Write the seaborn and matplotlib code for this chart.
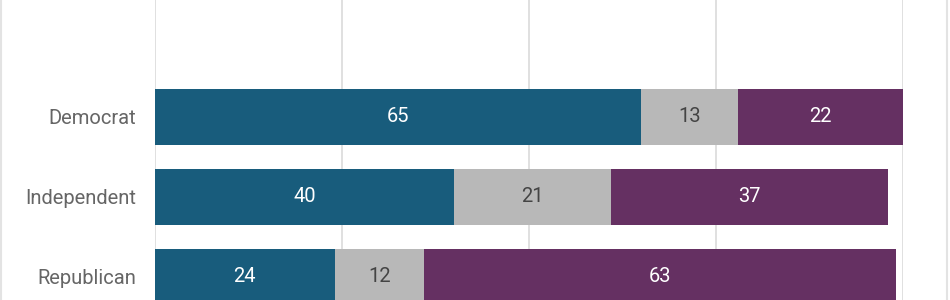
import matplotlib
matplotlib.use("Agg")
import matplotlib.pyplot as plt
import seaborn as sns
import pandas as pd
import numpy as np
from matplotlib.patches import Rectangle

categories = ["Democrat", "Independent", "Republican"]
approve = [65, 40, 24]
neutral = [13, 21, 12]
disapprove = [22, 37, 63]

colors = {"approve": "#185C7C", "neutral": "#B8B8B8", "disapprove": "#653062"}
text_colors = {"approve": "white", "neutral": "#444444", "disapprove": "white"}

sns.set_theme(style="white")
plt.rcParams["font.family"] = ["Roboto", "DejaVu Sans"]

df = pd.DataFrame({"party": categories, "approve": approve,
                   "neutral": neutral, "disapprove": disapprove})
df["c1"] = df["approve"]
df["c2"] = df["approve"] + df["neutral"]
df["c3"] = df["approve"] + df["neutral"] + df["disapprove"]

fig = plt.figure(figsize=(9.5, 3.0), dpi=100)
ax = fig.add_axes([155 / 950, 0.0, (903 - 155) / 950, 1.0])

for col, key in [("c3", "disapprove"), ("c2", "neutral"), ("c1", "approve")]:
    sns.barplot(data=df, y="party", x=col, order=categories, orient="h",
                color=colors[key], saturation=1, width=0.7, ax=ax, zorder=2,
                linewidth=0)

for i, row in df.iterrows():
    starts = [0, row["c1"], row["c2"]]
    for s, key in zip(starts, ["approve", "neutral", "disapprove"]):
        v = row[key]
        ax.text(s + v / 2, i, f"{v}", ha="center", va="center",
                color=text_colors[key], fontsize=14.5, zorder=3)

ax.set_xlim(0, 100)
ax.set_ylim(2.2875, -1.4625)
ax.set_xticks([0, 25, 50, 75, 100])
ax.xaxis.grid(True, color="#DDDDDD", linewidth=1.3, zorder=0)
ax.set_axisbelow(True)
ax.tick_params(axis="x", labelbottom=False, length=0)
ax.tick_params(axis="y", length=0, pad=13.7, labelsize=14.5, labelcolor="#666666")
ax.set_xlabel("")
ax.set_ylabel("")
for s in ax.spines.values():
    s.set_visible(False)

fig.patches.append(Rectangle((0.001, -0.01), 0.996, 1.02, transform=fig.transFigure,
                             fill=False, edgecolor="#E3E3E3", linewidth=1.5))

fig.savefig("out.png", dpi=100, facecolor="white")
